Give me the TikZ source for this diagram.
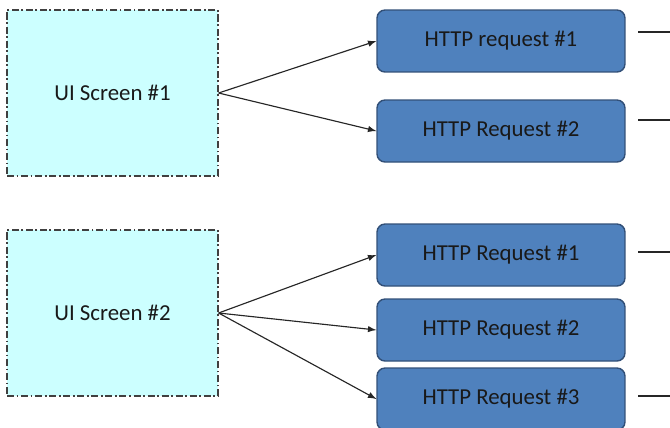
\documentclass[tikz,border=0pt]{standalone}
\usepackage{fontspec}
\setmainfont{Carlito}
\usetikzlibrary{arrows,positioning}
\definecolor{screencyan}{RGB}{204,255,255}
\definecolor{reqblue}{RGB}{79,129,189}
\definecolor{reqedge}{RGB}{50,80,120}

\begin{document}
\begin{tikzpicture}[x=0.02cm,y=-0.02cm,
  screen/.style={draw=black!75,fill=screencyan,line width=0.7pt,
    dash pattern=on 4pt off 1.5pt on 1pt off 1.5pt,
    minimum width=4.22cm,minimum height=3.32cm,
    font=\fontsize{13}{15}\selectfont,text=black!90},
  request/.style={draw=reqedge,line width=0.8pt,fill=reqblue,
    rounded corners=0.16cm,minimum width=4.96cm,minimum height=1.24cm,
    font=\fontsize{13}{15}\selectfont,text=black!90},
  link/.style={-latex,line width=0.65pt,black!85},
  stub/.style={line width=0.65pt,black!85}]

\useasboundingbox (0,0) rectangle (670,427);

% screens
\node[screen] (S1) at (112.5,93) {UI Screen \#1};
\node[screen] (S2) at (112.5,313) {UI Screen \#2};

% requests
\node[request] (A1) at (501,41) {HTTP request \#1};
\node[request] (A2) at (501,131) {HTTP Request \#2};
\node[request] (B1) at (501,255) {HTTP Request \#1};
\node[request] (B2) at (501,330) {HTTP Request \#2};
\node[request] (B3) at (501,399) {HTTP Request \#3};

\draw[link] (S1.east) -- (A1.west);
\draw[link] (S1.east) -- (A2.west);
\draw[link] (S2.east) -- (B1.west);
\draw[link] (S2.east) -- (B2.west);
\draw[link] (S2.east) -- (B3.west);

% lines leaving on the right
\foreach \y [count=\i] in {32,120,252,396} {
  \coordinate (p\i) at (638,\y);
  \coordinate (q\i) at (670,\y);
  \draw[stub] (p\i) -- (q\i);
}
\end{tikzpicture}
\end{document}
